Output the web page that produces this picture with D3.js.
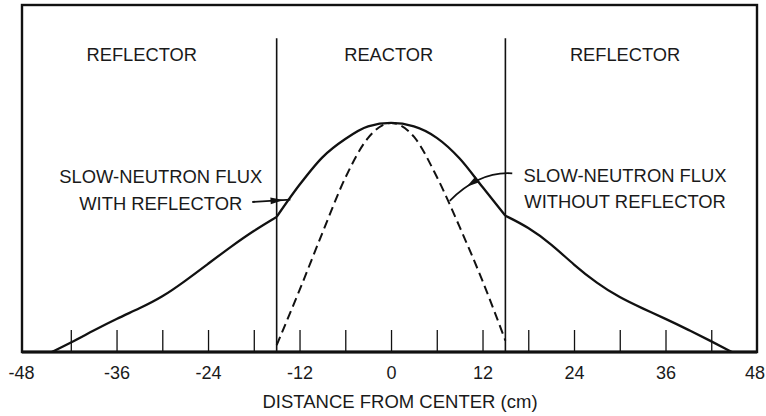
<!DOCTYPE html>
<html>
<head>
<meta charset="utf-8">
<script src="https://cdn.jsdelivr.net/npm/d3@7"></script>
<style>
  html, body { margin: 0; padding: 0; background: #fff; }
  svg { display: block; }
  text { font-family: "Liberation Sans", Arial, Helvetica, sans-serif; fill: #1a1a1a; }
</style>
</head>
<body>
<svg id="chart" width="766" height="416"></svg>
<script>
// Slow-neutron flux across a reactor core, with and without a reflector.
// Distances in cm from the core centre; flux relative to the peak value.

const reactorHalfWidth = 15;

// Flux with reflector, split into the three regions so the slope break at
// the core/reflector interface stays sharp.
const leftReflectorX    = [-44.5, -42, -39, -36, -33, -30, -27, -24, -21, -18, -15];
const leftReflectorFlux = [0, 0.04, 0.094, 0.145, 0.19, 0.24, 0.31, 0.385, 0.46, 0.53, 0.59];

const coreX    = [-15, -12, -9, -6, -3, 0, 3, 6, 9, 12, 15];
const coreFlux = [0.59, 0.73, 0.85, 0.93, 0.985, 1.0, 0.985, 0.935, 0.845, 0.72, 0.595];

const rightReflectorX    = [15, 18, 21, 24, 27, 30, 33, 36, 39, 42, 44.7];
const rightReflectorFlux = [0.595, 0.545, 0.472, 0.38, 0.30, 0.237, 0.19, 0.145, 0.097, 0.047, 0];

// Flux without reflector (bare core).
const bareX    = [-15, -12, -9, -6, -3, 0, 3, 6, 9, 12, 15];
const bareFlux = [0.03, 0.27, 0.52, 0.76, 0.935, 1.0, 0.94, 0.765, 0.546, 0.31, 0.05];

// Axis ticks and labels.
const minorTicks = [-42, -36, -30, -24, -18, -12, -6, 0, 6, 12, 18, 24, 30, 36, 42];
const tickLabels = [-48, -36, -24, -12, 0, 12, 24, 36, 48];

const regionLabels = [
  { text: "REFLECTOR", x: -32.7 },
  { text: "REACTOR",   x: -0.3 },
  { text: "REFLECTOR", x: 30.7 }
];

const svg = d3.select("#chart");

const x = d3.scaleLinear().domain([-48.4, 48]).range([22, 757]);
const y = d3.scaleLinear().domain([0, 1.515]).range([352, 5]);

const ink = "#111";

// Plot frame
svg.append("rect")
  .attr("x", x(-48.4)).attr("y", y(1.515))
  .attr("width", x(48) - x(-48.4)).attr("height", y(0) - y(1.515))
  .attr("fill", "none").attr("stroke", ink).attr("stroke-width", 2.4);

// Minor tick marks pointing up into the plot
const tickAxis = d3.axisBottom(x).tickValues(minorTicks).tickSize(-22).tickFormat("");
const gTicks = svg.append("g").attr("transform", `translate(0,${y(0)})`).call(tickAxis);
gTicks.select(".domain").remove();
gTicks.selectAll("line").attr("stroke", ink).attr("stroke-width", 1.3);

// Tick labels (the outermost ones pulled in slightly to stay on the page)
const labelAxis = d3.axisBottom(x).tickValues(tickLabels).tickSize(0).tickPadding(14)
  .tickFormat(d => String(d));
const gLabels = svg.append("g").attr("transform", `translate(0,${y(0)})`).call(labelAxis);
gLabels.select(".domain").remove();
gLabels.selectAll("text")
  .attr("font-size", 18).attr("fill", "#1a1a1a")
  .attr("dx", d => d === 48 ? -2.5 : d === -48 ? -4 : 0)
  .style("font-family", '"Liberation Sans", Arial, sans-serif');

// Bottom axis line (heavier than the frame)
svg.append("line")
  .attr("x1", x(-48.4)).attr("x2", x(48)).attr("y1", y(0)).attr("y2", y(0))
  .attr("stroke", ink).attr("stroke-width", 3);

// Axis title
svg.append("text")
  .attr("x", 400).attr("y", 408)
  .attr("text-anchor", "middle").attr("font-size", 18.5)
  .text("DISTANCE FROM CENTER (cm)");

// Core/reflector boundaries
[-reactorHalfWidth, reactorHalfWidth].forEach(b => {
  svg.append("line")
    .attr("x1", x(b)).attr("x2", x(b)).attr("y1", y(1.37)).attr("y2", y(0))
    .attr("stroke", ink).attr("stroke-width", 1.6);
});

// Region names
svg.selectAll("text.region").data(regionLabels).enter().append("text")
  .attr("class", "region")
  .attr("x", d => x(d.x)).attr("y", y(1.27))
  .attr("text-anchor", "middle").attr("font-size", 18.3)
  .text(d => d.text);

const zip = (xs, ys) => xs.map((v, i) => [v, ys[i]]);
const coreLine = d3.line().x(d => x(d[0])).y(d => y(d[1])).curve(d3.curveMonotoneX);
const tailLine = d3.line().x(d => x(d[0])).y(d => y(d[1])).curve(d3.curveBasis);

const solid = sel => sel.attr("fill", "none").attr("stroke", ink)
  .attr("stroke-width", 2.3).attr("stroke-linejoin", "round");

// Flux with reflector (solid)
svg.append("path").attr("d", tailLine(zip(leftReflectorX, leftReflectorFlux))).call(solid);
svg.append("path").attr("d", coreLine(zip(coreX, coreFlux))).call(solid);
svg.append("path").attr("d", tailLine(zip(rightReflectorX, rightReflectorFlux))).call(solid);

// Flux without reflector (dashed)
svg.append("path").attr("d", coreLine(zip(bareX, bareFlux)))
  .attr("fill", "none").attr("stroke", ink).attr("stroke-width", 2)
  .attr("stroke-dasharray", "9,5");

// Annotation text
function label(lines, cx, baselines) {
  lines.forEach((t, i) => {
    svg.append("text").attr("x", x(cx)).attr("y", y(baselines[i]))
      .attr("text-anchor", "middle").attr("font-size", 18.4).text(t);
  });
}
label(["SLOW-NEUTRON FLUX", "WITH REFLECTOR"], -30.2, [0.739, 0.621]);
label(["SLOW-NEUTRON FLUX", "WITHOUT REFLECTOR"], 30.7, [0.743, 0.629]);

// Arrowhead: filled elongated triangle with its point at (px,py) facing angle a
function arrowHead(px, py, a, len = 13, half = 3.4) {
  const bx = px - len * Math.cos(a), by = py - len * Math.sin(a);
  const nx = -Math.sin(a) * half, ny = Math.cos(a) * half;
  svg.append("path")
    .attr("d", `M${px},${py}L${bx + nx},${by + ny}L${bx - nx},${by - ny}Z`)
    .attr("fill", ink);
}

// Leader to the solid curve
{
  const x0 = x(-18.2), y0 = y(0.655);
  const x1 = x(-13.2), y1 = y(0.665);
  svg.append("line").attr("x1", x0).attr("y1", y0).attr("x2", x1).attr("y2", y1)
    .attr("stroke", ink).attr("stroke-width", 1.8);
  const a = Math.atan2(y1 - y0, x1 - x0);
  arrowHead(x0 + (x1 - x0) * 0.82, y0 + (y1 - y0) * 0.82, a);
}

// Curved leader to the dashed curve
{
  const p0 = [x(15.9), y(0.78)], c = [x(11.6), y(0.79)], p1 = [x(7.7), y(0.66)];
  svg.append("path").attr("d", `M${p0[0]},${p0[1]}Q${c[0]},${c[1]} ${p1[0]},${p1[1]}`)
    .attr("fill", "none").attr("stroke", ink).attr("stroke-width", 1.8);
  const t = 0.72;
  const qx = (1 - t) * (1 - t) * p0[0] + 2 * (1 - t) * t * c[0] + t * t * p1[0];
  const qy = (1 - t) * (1 - t) * p0[1] + 2 * (1 - t) * t * c[1] + t * t * p1[1];
  const dx = 2 * (1 - t) * (c[0] - p0[0]) + 2 * t * (p1[0] - c[0]);
  const dy = 2 * (1 - t) * (c[1] - p0[1]) + 2 * t * (p1[1] - c[1]);
  arrowHead(qx, qy, Math.atan2(dy, dx));
}
</script>
</body>
</html>
